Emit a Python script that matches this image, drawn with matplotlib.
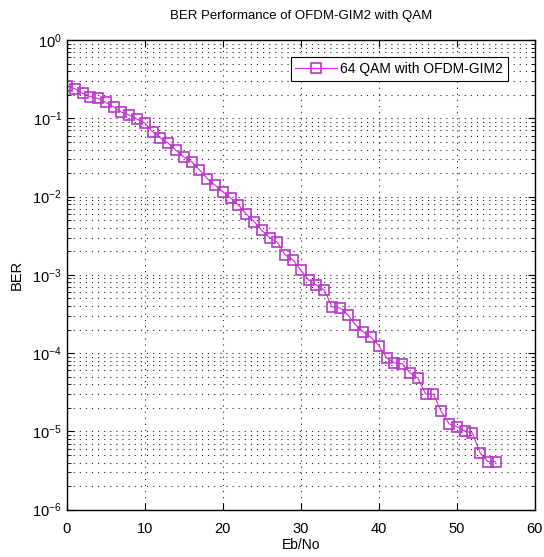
import numpy as np
import matplotlib
matplotlib.use('Agg')
from matplotlib import pyplot as plt
from matplotlib.ticker import FixedLocator, FuncFormatter, NullFormatter

plt.rcParams['font.family'] = ['Liberation Sans', 'DejaVu Sans']

ebno = list(range(0, 56))
ber = [0.26, 0.24, 0.21, 0.19, 0.18, 0.16, 0.14, 0.12, 0.11, 0.098,
       0.087, 0.067, 0.056, 0.048, 0.039, 0.032, 0.028, 0.022, 0.017, 0.014,
       0.0115, 0.0096, 0.0078, 0.0060, 0.0048, 0.0037, 0.0030, 0.0026, 0.0018, 0.00155,
       0.00115, 0.00086, 0.00074, 0.00064, 0.00039, 0.00038, 0.00031, 0.00023, 0.000187, 0.000160,
       0.000125, 8.7e-5, 7.5e-5, 7.3e-5, 5.6e-5, 4.8e-5, 3.0e-5, 3.0e-5, 1.8e-5, 1.25e-5,
       1.15e-5, 1.02e-5, 9.5e-6, 5.3e-6, 4.1e-6, 4.1e-6]
label = '64 QAM with OFDM-GIM2'
decades = list(range(-6, 1))

fig = plt.figure(figsize=(5.44, 5.57), dpi=100)
ax = fig.add_axes([0.123, 0.085, 0.86, 0.843])

ax.semilogy(ebno, ber, color='#e020e0', lw=0.8, marker='s', markersize=7.5,
            markerfacecolor='none', markeredgecolor='#b838c8', markeredgewidth=1.2, label=label)

ax.set_xlim(0, 60)
ax.set_ylim(1e-6, 1)
ax.set_xticks(range(0, 61, 10))
ax.yaxis.set_major_locator(FixedLocator([10.0 ** d for d in decades]))
ax.yaxis.set_minor_locator(FixedLocator([m * 10.0 ** d for d in decades[:-1] for m in range(2, 10)]))
ax.yaxis.set_minor_formatter(NullFormatter())
ax.yaxis.set_major_formatter(FuncFormatter(lambda v, p: r'$\mathregular{10^{%d}}$' % round(np.log10(v))))

dots = (0, (1, 4.5))
ax.grid(True, which='major', axis='x', color='#222222', linestyle=dots, lw=0.8)
ax.grid(True, which='both', axis='y', color='#222222', linestyle=dots, lw=0.8)

ax.tick_params(which='both', direction='in', top=True, right=True, labelsize=10.5)
ax.tick_params(which='major', length=5)
ax.tick_params(axis='x', which='major', pad=9)
ax.tick_params(which='minor', length=3)
for s in ax.spines.values():
    s.set_linewidth(1.0)

ax.set_title('BER Performance of OFDM-GIM2 with QAM', fontsize=9.5, pad=15)
ax.set_xlabel('Eb/No', fontsize=10, labelpad=1)
ax.set_ylabel('BER', fontsize=10.5, labelpad=6)

leg = ax.legend(loc='upper right', bbox_to_anchor=(0.942, 0.964), borderaxespad=0,
                fontsize=10, fancybox=False, framealpha=1, edgecolor='black',
                handlelength=3.0, handletextpad=0.2, borderpad=0.35)
leg.get_frame().set_linewidth(0.8)

fig.savefig('out.png', dpi=100)
